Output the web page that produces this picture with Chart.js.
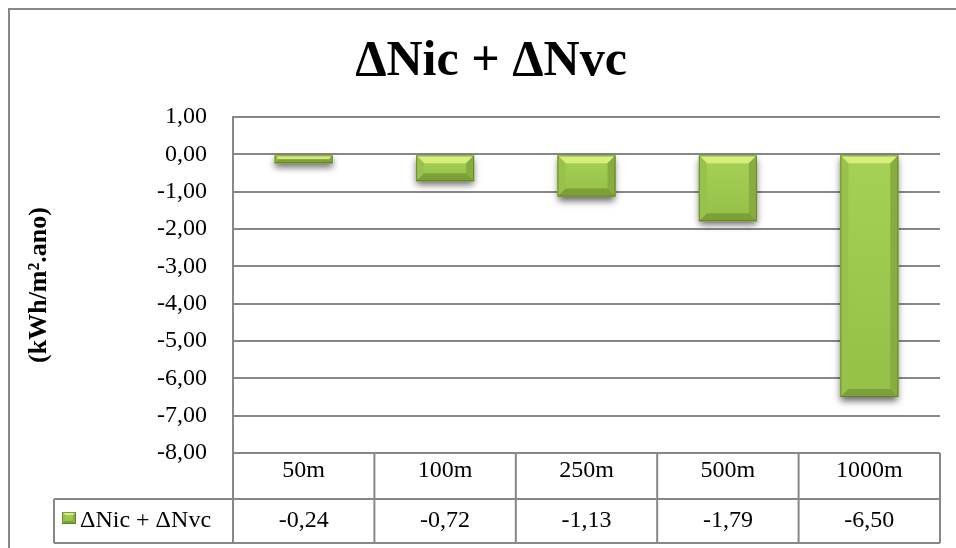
<!DOCTYPE html>
<html>
<head>
<meta charset="utf-8">
<script src="https://cdn.jsdelivr.net/npm/chart.js@4/dist/chart.umd.min.js"></script>
<style>
  html, body { margin: 0; padding: 0; background: #ffffff; }
  #wrap { width: 956px; height: 548px; }
</style>
</head>
<body>
<div id="wrap"><canvas id="c" width="956" height="548"></canvas></div>
<script>
// Distances and the combined heating + cooling change for each
const categories = ['50m', '100m', '250m', '500m', '1000m'];
const seriesName = 'ΔNic + ΔNvc';
const seriesValues = [-0.24, -0.72, -1.13, -1.79, -6.50];
const chartTitle = 'ΔNic + ΔNvc';
const yAxisTitle = '(kWh/m².ano)';
const yMin = -8;
const yMax = 1;
const yStep = 1;

const SERIF = '"Liberation Serif", "Times New Roman", serif';
const LINE = '#878787';
const fmt = v => v.toFixed(2).replace('.', ',');

// Frame, title text and the data table under the plot
const frameAndTable = {
  id: 'frameAndTable',
  beforeDraw(chart) {
    const ctx = chart.ctx;
    ctx.save();
    ctx.strokeStyle = LINE;
    ctx.lineWidth = 2;
    ctx.beginPath();
    ctx.moveTo(9, chart.height);
    ctx.lineTo(9, 9);
    ctx.lineTo(chart.width, 9);
    ctx.stroke();
    ctx.restore();
  },
  afterDraw(chart) {
    const ctx = chart.ctx;
    const area = chart.chartArea;
    const xs = chart.scales.x;
    const rowTop = area.bottom;
    const rowMid = rowTop + 46;
    const rowBottom = rowMid + 44;
    const legendLeft = 54;

    // boundaries between categories, from the category scale
    const edges = [area.left];
    for (let i = 0; i < categories.length - 1; i++) {
      edges.push((xs.getPixelForValue(i) + xs.getPixelForValue(i + 1)) / 2);
    }
    edges.push(area.right);

    ctx.save();
    ctx.strokeStyle = LINE;
    ctx.lineWidth = 2;
    ctx.beginPath();
    ctx.moveTo(legendLeft, rowMid); ctx.lineTo(area.right, rowMid);
    ctx.moveTo(legendLeft, rowBottom); ctx.lineTo(area.right, rowBottom);
    ctx.moveTo(legendLeft, rowMid); ctx.lineTo(legendLeft, rowBottom);
    ctx.moveTo(area.left, area.top); ctx.lineTo(area.left, rowBottom);
    for (let i = 1; i < edges.length; i++) {
      ctx.moveTo(edges[i], rowTop); ctx.lineTo(edges[i], rowBottom);
    }
    ctx.stroke();

    // legend key
    const cy = (rowMid + rowBottom) / 2;
    drawBevelBox(ctx, 62, 512, 76, 524, 3);
    ctx.fillStyle = '#000';
    ctx.font = '24px ' + SERIF;
    ctx.textAlign = 'left';
    ctx.textBaseline = 'middle';
    ctx.fillText(seriesName, 80, cy);

    // values row
    ctx.textAlign = 'center';
    seriesValues.forEach((v, i) => {
      ctx.fillText(fmt(v), xs.getPixelForValue(i), cy);
    });

    // chart title
    ctx.font = 'bold 50px ' + SERIF;
    ctx.fillText(chartTitle, 491, 62);
    ctx.restore();
  }
};

// Bevelled green box: face plus light top and shaded lower edges
function drawBevelBox(ctx, l, t, r, b, size) {
  const s = Math.min(size, (b - t) / 2, (r - l) / 2);
  const face = ctx.createLinearGradient(0, t, 0, b);
  face.addColorStop(0, '#a6d157');
  face.addColorStop(1, '#95c047');
  ctx.fillStyle = face;
  ctx.fillRect(l, t, r - l, b - t);
  const poly = (pts, color) => {
    ctx.beginPath();
    ctx.moveTo(pts[0][0], pts[0][1]);
    for (let k = 1; k < pts.length; k++) ctx.lineTo(pts[k][0], pts[k][1]);
    ctx.closePath();
    ctx.fillStyle = color;
    ctx.fill();
  };
  poly([[l, t], [r, t], [r - s, t + s], [l + s, t + s]], '#d6ef7c');
  poly([[l, t], [l + s, t + s], [l + s, b - s], [l, b]], '#98c24c');
  poly([[r, t], [r, b], [r - s, b - s], [r - s, t + s]], '#87ad40');
  poly([[l, b], [l + s, b - s], [r - s, b - s], [r, b]], '#7c9f38');
  ctx.strokeStyle = 'rgba(90,120,35,0.7)';
  ctx.lineWidth = 1;
  ctx.strokeRect(l + 0.5, t + 0.5, r - l - 1, b - t - 1);
}

// Soft shadow beneath each bar, then the bevel over the bar face
const barBevel = {
  id: 'barBevel',
  beforeDatasetsDraw(chart) {
    const ctx = chart.ctx;
    const meta = chart.getDatasetMeta(0);
    ctx.save();
    meta.data.forEach(bar => {
      const p = bar.getProps(['x', 'y', 'base', 'width'], true);
      const t = Math.min(p.y, p.base), b = Math.max(p.y, p.base);
      ctx.shadowColor = 'rgba(0,0,0,0.6)';
      ctx.shadowBlur = 7;
      ctx.shadowOffsetY = 4;
      ctx.fillStyle = '#8cb444';
      ctx.fillRect(p.x - p.width / 2, t, p.width, b - t);
    });
    ctx.restore();
  },
  afterDatasetsDraw(chart) {
    const ctx = chart.ctx;
    const meta = chart.getDatasetMeta(0);
    ctx.save();
    meta.data.forEach(bar => {
      const p = bar.getProps(['x', 'y', 'base', 'width'], true);
      const t = Math.min(p.y, p.base), b = Math.max(p.y, p.base);
      drawBevelBox(ctx, p.x - p.width / 2, t, p.x + p.width / 2, b, 8);
    });
    ctx.restore();
  }
};

new Chart(document.getElementById('c'), {
  type: 'bar',
  data: {
    labels: categories,
    datasets: [{
      label: seriesName,
      data: seriesValues,
      backgroundColor: '#9cc84c',
      borderWidth: 0,
      barPercentage: 0.41,
      categoryPercentage: 1
    }]
  },
  options: {
    responsive: false,
    animation: false,
    events: [],
    layout: { padding: { left: 20, right: 16, top: 117, bottom: 5 } },
    plugins: {
      legend: { display: false },
      title: { display: false },
      tooltip: { enabled: false }
    },
    scales: {
      x: {
        position: 'bottom',
        grid: { display: false, drawTicks: false },
        border: { display: false },
        ticks: {
          color: '#000',
          font: { family: SERIF, size: 24 },
          padding: 3,
          maxRotation: 0
        },
        afterFit(scale) { scale.height = 90; }
      },
      y: {
        min: yMin,
        max: yMax,
        grid: { color: LINE, lineWidth: 2, drawTicks: false },
        border: { display: true, color: LINE, width: 2 },
        ticks: {
          stepSize: yStep,
          color: '#000',
          font: { family: SERIF, size: 24 },
          padding: 26,
          callback: v => fmt(v)
        },
        title: {
          display: true,
          text: yAxisTitle,
          color: '#000',
          font: { family: SERIF, size: 26, weight: 'bold' },
          padding: { top: 4, bottom: 0 }
        },
        afterFit(scale) { scale.width = 213; }
      }
    }
  },
  plugins: [frameAndTable, barBevel]
});
</script>
</body>
</html>
